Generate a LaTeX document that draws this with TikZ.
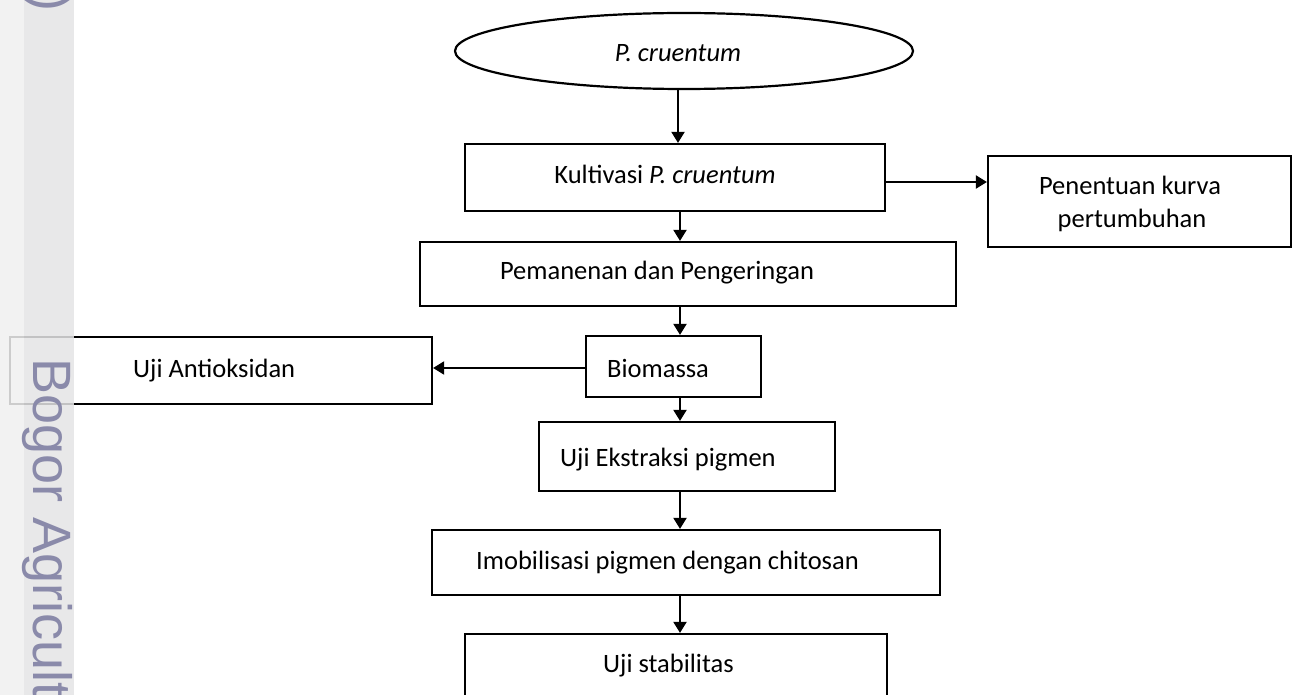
\documentclass[tikz,border=0pt]{standalone}
\usepackage{fontspec}
\setmainfont{Carlito}
\newfontfamily\wmfont{Liberation Sans}
\usetikzlibrary{arrows.meta,shapes.geometric}
\definecolor{wmtext}{HTML}{8A8AAA}
\definecolor{wmband}{HTML}{E4E4E6}
\definecolor{wmside}{HTML}{F0F0F0}
\newcommand\flowfont{\fontsize{26.5}{32}\selectfont}
\tikzset{
  flowbox/.style={draw=black, line width=2.2pt, rectangle, inner sep=0pt, fill=white},
  flowtext/.style={font=\flowfont, inner sep=0pt, anchor=base west},
  flowarrow/.style={draw=black, line width=2pt, -{Triangle[width=13pt,length=11pt]}},
  wmstyle/.style={rotate=-90, inner sep=0pt, text=wmtext, font=\wmfont\fontsize{54}{60}\selectfont}
}
\begin{document}
\begin{tikzpicture}[x=1pt,y=-1pt]
\useasboundingbox (0,0) rectangle (1293,695);
\clip (0,0) rectangle (1293,695);
\fill[white] (0,0) rectangle (1293,695);
\coordinate (spine) at (680,0);
\coordinate (spinetop) at (678,0);

% shapes
\node[draw=black, line width=2.2pt, ellipse, minimum width=458pt, minimum height=76pt, inner sep=0pt] (src) at (684,51) {};
\node[flowbox, minimum width=420pt, minimum height=67pt] (kul) at (675,177.5) {};
\node[flowbox, minimum width=303pt, minimum height=91pt] (pen) at (1139.5,201.5) {};
\node[flowbox, minimum width=536pt, minimum height=64pt] (pem) at (688,274) {};
\node[flowbox, minimum width=175pt, minimum height=61pt] (bio) at (673.5,366.5) {};
\node[flowbox, minimum width=422pt, minimum height=67pt] (ant) at (221,370.5) {};
\node[flowbox, minimum width=296pt, minimum height=69pt] (eks) at (687,456.5) {};
\node[flowbox, minimum width=508pt, minimum height=65pt] (imo) at (686,562.5) {};
\node[flowbox, minimum width=422pt, minimum height=86pt] (sta) at (676,677) {};

% texts
\node[font=\flowfont\itshape, inner sep=0pt, anchor=base] (tsrc) at (678,62) {P. cruentum};
\node[font=\flowfont, inner sep=0pt, anchor=base] (tkul) at (665,184) {Kultivasi \textit{P. cruentum}};
\node[font=\flowfont, inner sep=0pt, anchor=base] (tpen1) at (1130,195) {Penentuan kurva};
\node[font=\flowfont, inner sep=0pt, anchor=base] (tpen2) at (1132,228) {pertumbuhan};
\node[font=\flowfont, inner sep=0pt, anchor=base] (tpem) at (657,279) {Pemanenan dan Pengeringan};
\node[flowtext] (tbio) at (607,377) {Biomassa};
\node[flowtext] (tant) at (133,377) {Uji Antioksidan};
\node[flowtext] (teks) at (560,466) {Uji Ekstraksi pigmen};
\node[flowtext] (timo) at (476,569) {Imobilisasi pigmen dengan chitosan};
\node[flowtext] (tsta) at (603,672) {Uji stabilitas};

% connectors
\draw[flowarrow] (src.south -| spinetop) -- (kul.north -| spinetop);
\draw[flowarrow] (kul.south -| spine) -- (pem.north -| spine);
\draw[flowarrow] (pem.south -| spine) -- (bio.north -| spine);
\draw[flowarrow] (bio.south -| spine) -- (eks.north -| spine);
\draw[flowarrow] (eks.south -| spine) -- (imo.north -| spine);
\draw[flowarrow] (imo.south -| spine) -- (sta.north -| spine);
\coordinate (kulrow) at (0,182);
\coordinate (biorow) at (0,368);
\draw[flowarrow] (kul.east |- kulrow) -- (pen.west |- kulrow);
\draw[flowarrow] (bio.west |- biorow) -- (ant.east |- biorow);

% watermark strip
\fill[wmside, opacity=0.85] (0,0) rectangle (24,695);
\fill[wmband, opacity=0.85] (24,0) rectangle (74,695);
\node[wmstyle, anchor=base west] (wm1) at (33,358) {Bogor Agricultural University};
\node[wmstyle, anchor=base east] (wm2) at (33,12) {r)};
\end{tikzpicture}
\end{document}
